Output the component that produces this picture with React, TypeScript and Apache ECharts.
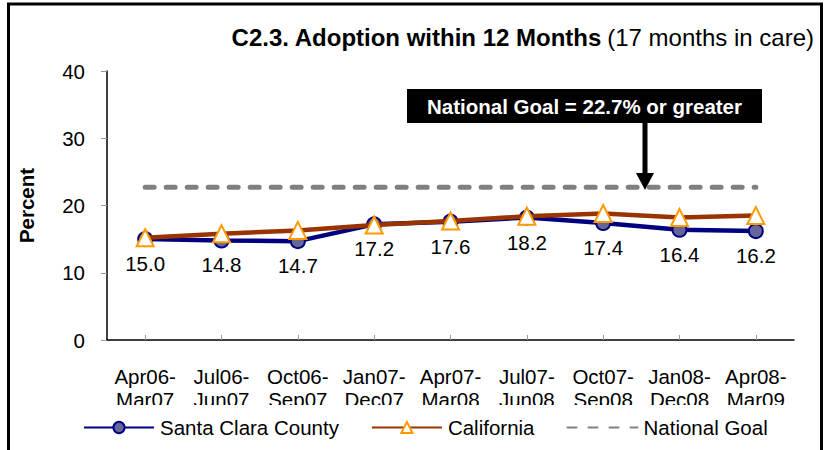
import React, { useEffect, useRef } from "react";
import * as echarts from "echarts";

const categories = [
  "Apr06-\nMar07",
  "Jul06-\nJun07",
  "Oct06-\nSep07",
  "Jan07-\nDec07",
  "Apr07-\nMar08",
  "Jul07-\nJun08",
  "Oct07-\nSep08",
  "Jan08-\nDec08",
  "Apr08-\nMar09",
];
const santaClara = [15.0, 14.8, 14.7, 17.2, 17.6, 18.2, 17.4, 16.4, 16.2];
const california = [15.2, 15.8, 16.3, 17.1, 17.7, 18.4, 18.8, 18.2, 18.5];
const nationalGoal = [22.7, 22.7, 22.7, 22.7, 22.7, 22.7, 22.7, 22.7, 22.7];
const yTicks = { min: 0, max: 40, interval: 10 };

const FONT = "'Liberation Sans', Arial, Helvetica, sans-serif";
const FS = 20.5;

export default function App() {
  const ref = useRef<HTMLDivElement>(null);

  useEffect(() => {
    if (!ref.current) return;
    const chart = echarts.init(ref.current, null, { renderer: "svg" });
    const option: any = {
      animation: false,
      backgroundColor: "#ffffff",
      textStyle: { fontFamily: FONT },
      grid: { left: 107, right: 32, top: 71, bottom: 110, containLabel: false },
      title: {
        text: "{b|C2.3. Adoption within 12 Months} {n|(17 months in care)}",
        right: 7,
        top: 20,
        textStyle: {
          rich: {
            b: { fontFamily: FONT, fontSize: 24, fontWeight: "bold", color: "#000" },
            n: { fontFamily: FONT, fontSize: 24, fontWeight: "normal", color: "#000" },
          },
        },
      },
      legend: {
        left: 78,
        top: 412,
        itemWidth: 70,
        itemHeight: 14,
        itemGap: 32,
        textStyle: { fontFamily: FONT, fontSize: FS, color: "#000", padding: [0, 0, 0, 1] },
        data: ["Santa Clara County", "California", "National Goal"],
      },
      xAxis: {
        type: "category",
        data: categories,
        boundaryGap: true,
        axisLine: { lineStyle: { color: "#000", width: 1.5 } },
        axisTick: { show: true, inside: true, alignWithLabel: true, length: 5, lineStyle: { color: "#999" } },
        axisLabel: {
          fontFamily: FONT,
          fontSize: FS,
          color: "#000",
          margin: 25,
          lineHeight: 23,
          interval: 0,
        },
      },
      yAxis: {
        type: "value",
        min: yTicks.min,
        max: yTicks.max,
        interval: yTicks.interval,
        name: "Percent",
        nameLocation: "middle",
        nameRotate: 90,
        nameGap: 70,
        nameTextStyle: { fontFamily: FONT, fontSize: FS, fontWeight: "bold", color: "#000" },
        splitLine: { show: false },
        axisLine: { show: true, lineStyle: { color: "#000", width: 1.5 } },
        axisTick: { show: true, length: 6, lineStyle: { color: "#999" } },
        axisLabel: { fontFamily: FONT, fontSize: FS, color: "#000", margin: 22 },
      },
      series: [
        {
          name: "National Goal",
          type: "line",
          data: nationalGoal,
          symbol: "none",
          z: 1,
          lineStyle: { color: "#808080", width: 5, type: [9, 12], cap: "round" },
          itemStyle: { color: "rgba(0,0,0,0)", borderWidth: 0 },
        },
        {
          name: "Santa Clara County",
          type: "line",
          data: santaClara,
          symbol: "circle",
          symbolSize: 14,
          z: 3,
          lineStyle: { color: "#000080", width: 4.5 },
          itemStyle: { color: "#666699", borderColor: "#000080", borderWidth: 2 },
          label: {
            show: true,
            position: "bottom",
            distance: 6,
            formatter: (p: any) => Number(p.value).toFixed(1),
            fontFamily: FONT,
            fontSize: FS,
            color: "#000",
          },
        },
        {
          name: "California",
          type: "line",
          data: california,
          symbol: "triangle",
          symbolSize: 17,
          z: 4,
          lineStyle: { color: "#993300", width: 4.5 },
          itemStyle: { color: "#ffffff", borderColor: "#FF9900", borderWidth: 2 },
        },
      ],
      graphic: [
        {
          type: "rect",
          silent: true,
          z: 100,
          shape: { x: 100, y: 405, width: 710, height: 8 },
          style: { fill: "#ffffff" },
        },
        {
          type: "rect",
          silent: true,
          z: 100,
          shape: { x: 8.5, y: 4, width: 813, height: 470 },
          style: { fill: "none", stroke: "#000", lineWidth: 3 },
        },
        {
          type: "group",
          z: 100,
          children: [
            {
              type: "rect",
              shape: { x: 407, y: 89, width: 355, height: 34 },
              style: { fill: "#000" },
            },
            {
              type: "text",
              x: 584.5,
              y: 106,
              style: {
                text: "National Goal = 22.7% or greater",
                fill: "#fff",
                fontFamily: FONT,
                fontSize: FS,
                fontWeight: "bold",
                align: "center",
                verticalAlign: "middle",
              },
            },
            {
              type: "line",
              shape: { x1: 645, y1: 122, x2: 645, y2: 175 },
              style: { stroke: "#000", lineWidth: 5 },
            },
            {
              type: "polygon",
              shape: { points: [[636, 173], [654, 173], [645, 190]] },
              style: { fill: "#000" },
            },
          ],
        },
      ],
    };
    chart.setOption(option);
    return () => chart.dispose();
  }, []);

  return (
    <div
      ref={ref}
      style={{ position: "absolute", left: 0, top: 0, width: 826, height: 450, background: "#fff" }}
    />
  );
}
